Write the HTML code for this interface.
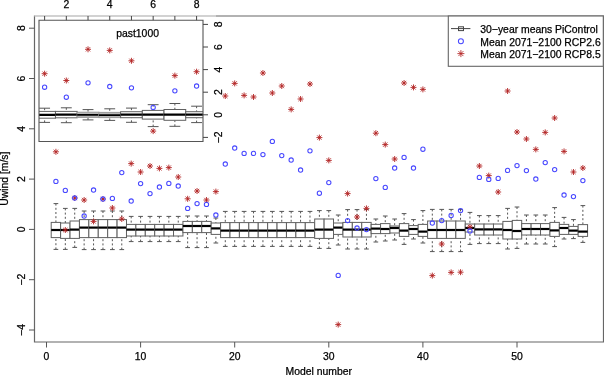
<!DOCTYPE html>
<html><head><meta charset="utf-8"><style>
html,body{margin:0;padding:0;background:#fff;width:604px;height:375px;overflow:hidden}
svg{display:block;position:absolute;left:0;top:0;will-change:transform}
text{font-family:"Liberation Sans",sans-serif;fill:#000;stroke:#000;stroke-width:0.25px}
</style></head><body>
<svg width="604" height="375" viewBox="0 0 604 375">
<rect width="604" height="375" fill="#fff"/>

<line x1="55.91" y1="203.60" x2="55.91" y2="222.40" stroke="#555" stroke-width="1" stroke-dasharray="2 2.2"/>
<line x1="55.91" y1="249.40" x2="55.91" y2="237.60" stroke="#555" stroke-width="1" stroke-dasharray="2 2.2"/>
<line x1="53.56" y1="203.60" x2="58.26" y2="203.60" stroke="#555" stroke-width="1"/>
<line x1="53.56" y1="249.40" x2="58.26" y2="249.40" stroke="#555" stroke-width="1"/>
<rect x="51.20" y="222.40" width="9.41" height="15.20" fill="#fff" stroke="#606060" stroke-width="1"/>
<line x1="51.20" y1="230.00" x2="60.61" y2="230.00" stroke="#000" stroke-width="2.2"/>
<line x1="65.32" y1="208.40" x2="65.32" y2="223.00" stroke="#555" stroke-width="1" stroke-dasharray="2 2.2"/>
<line x1="65.32" y1="249.40" x2="65.32" y2="238.40" stroke="#555" stroke-width="1" stroke-dasharray="2 2.2"/>
<line x1="62.97" y1="208.40" x2="67.67" y2="208.40" stroke="#555" stroke-width="1"/>
<line x1="62.97" y1="249.40" x2="67.67" y2="249.40" stroke="#555" stroke-width="1"/>
<rect x="60.61" y="223.00" width="9.41" height="15.40" fill="#fff" stroke="#606060" stroke-width="1"/>
<line x1="60.61" y1="230.00" x2="70.02" y2="230.00" stroke="#000" stroke-width="2.2"/>
<line x1="74.73" y1="208.40" x2="74.73" y2="221.00" stroke="#555" stroke-width="1" stroke-dasharray="2 2.2"/>
<line x1="74.73" y1="247.40" x2="74.73" y2="238.40" stroke="#555" stroke-width="1" stroke-dasharray="2 2.2"/>
<line x1="72.38" y1="208.40" x2="77.08" y2="208.40" stroke="#555" stroke-width="1"/>
<line x1="72.38" y1="247.40" x2="77.08" y2="247.40" stroke="#555" stroke-width="1"/>
<rect x="70.03" y="221.00" width="9.41" height="17.40" fill="#fff" stroke="#606060" stroke-width="1"/>
<line x1="70.03" y1="229.60" x2="79.44" y2="229.60" stroke="#000" stroke-width="2.2"/>
<line x1="84.14" y1="211.00" x2="84.14" y2="219.60" stroke="#555" stroke-width="1" stroke-dasharray="2 2.2"/>
<line x1="84.14" y1="249.60" x2="84.14" y2="237.60" stroke="#555" stroke-width="1" stroke-dasharray="2 2.2"/>
<line x1="81.79" y1="211.00" x2="86.49" y2="211.00" stroke="#555" stroke-width="1"/>
<line x1="81.79" y1="249.60" x2="86.49" y2="249.60" stroke="#555" stroke-width="1"/>
<rect x="79.44" y="219.60" width="9.41" height="18.00" fill="#fff" stroke="#606060" stroke-width="1"/>
<line x1="79.44" y1="227.60" x2="88.84" y2="227.60" stroke="#000" stroke-width="2.2"/>
<line x1="93.55" y1="211.00" x2="93.55" y2="219.60" stroke="#555" stroke-width="1" stroke-dasharray="2 2.2"/>
<line x1="93.55" y1="249.60" x2="93.55" y2="237.60" stroke="#555" stroke-width="1" stroke-dasharray="2 2.2"/>
<line x1="91.20" y1="211.00" x2="95.90" y2="211.00" stroke="#555" stroke-width="1"/>
<line x1="91.20" y1="249.60" x2="95.90" y2="249.60" stroke="#555" stroke-width="1"/>
<rect x="88.84" y="219.60" width="9.41" height="18.00" fill="#fff" stroke="#606060" stroke-width="1"/>
<line x1="88.84" y1="227.60" x2="98.25" y2="227.60" stroke="#000" stroke-width="2.2"/>
<line x1="102.96" y1="211.00" x2="102.96" y2="219.60" stroke="#555" stroke-width="1" stroke-dasharray="2 2.2"/>
<line x1="102.96" y1="249.60" x2="102.96" y2="237.60" stroke="#555" stroke-width="1" stroke-dasharray="2 2.2"/>
<line x1="100.61" y1="211.00" x2="105.31" y2="211.00" stroke="#555" stroke-width="1"/>
<line x1="100.61" y1="249.60" x2="105.31" y2="249.60" stroke="#555" stroke-width="1"/>
<rect x="98.26" y="219.60" width="9.41" height="18.00" fill="#fff" stroke="#606060" stroke-width="1"/>
<line x1="98.26" y1="227.60" x2="107.67" y2="227.60" stroke="#000" stroke-width="2.2"/>
<line x1="112.37" y1="211.00" x2="112.37" y2="219.60" stroke="#555" stroke-width="1" stroke-dasharray="2 2.2"/>
<line x1="112.37" y1="249.60" x2="112.37" y2="237.60" stroke="#555" stroke-width="1" stroke-dasharray="2 2.2"/>
<line x1="110.02" y1="211.00" x2="114.72" y2="211.00" stroke="#555" stroke-width="1"/>
<line x1="110.02" y1="249.60" x2="114.72" y2="249.60" stroke="#555" stroke-width="1"/>
<rect x="107.67" y="219.60" width="9.41" height="18.00" fill="#fff" stroke="#606060" stroke-width="1"/>
<line x1="107.67" y1="227.60" x2="117.08" y2="227.60" stroke="#000" stroke-width="2.2"/>
<line x1="121.78" y1="211.00" x2="121.78" y2="219.60" stroke="#555" stroke-width="1" stroke-dasharray="2 2.2"/>
<line x1="121.78" y1="249.60" x2="121.78" y2="237.60" stroke="#555" stroke-width="1" stroke-dasharray="2 2.2"/>
<line x1="119.43" y1="211.00" x2="124.13" y2="211.00" stroke="#555" stroke-width="1"/>
<line x1="119.43" y1="249.60" x2="124.13" y2="249.60" stroke="#555" stroke-width="1"/>
<rect x="117.08" y="219.60" width="9.41" height="18.00" fill="#fff" stroke="#606060" stroke-width="1"/>
<line x1="117.08" y1="227.60" x2="126.48" y2="227.60" stroke="#000" stroke-width="2.2"/>
<line x1="131.19" y1="216.40" x2="131.19" y2="224.40" stroke="#555" stroke-width="1" stroke-dasharray="2 2.2"/>
<line x1="131.19" y1="241.60" x2="131.19" y2="236.00" stroke="#555" stroke-width="1" stroke-dasharray="2 2.2"/>
<line x1="128.84" y1="216.40" x2="133.54" y2="216.40" stroke="#555" stroke-width="1"/>
<line x1="128.84" y1="241.60" x2="133.54" y2="241.60" stroke="#555" stroke-width="1"/>
<rect x="126.48" y="224.40" width="9.41" height="11.60" fill="#fff" stroke="#606060" stroke-width="1"/>
<line x1="126.48" y1="229.60" x2="135.90" y2="229.60" stroke="#000" stroke-width="2.2"/>
<line x1="140.60" y1="216.40" x2="140.60" y2="224.40" stroke="#555" stroke-width="1" stroke-dasharray="2 2.2"/>
<line x1="140.60" y1="241.60" x2="140.60" y2="236.00" stroke="#555" stroke-width="1" stroke-dasharray="2 2.2"/>
<line x1="138.25" y1="216.40" x2="142.95" y2="216.40" stroke="#555" stroke-width="1"/>
<line x1="138.25" y1="241.60" x2="142.95" y2="241.60" stroke="#555" stroke-width="1"/>
<rect x="135.89" y="224.40" width="9.41" height="11.60" fill="#fff" stroke="#606060" stroke-width="1"/>
<line x1="135.89" y1="229.60" x2="145.31" y2="229.60" stroke="#000" stroke-width="2.2"/>
<line x1="150.01" y1="216.40" x2="150.01" y2="224.40" stroke="#555" stroke-width="1" stroke-dasharray="2 2.2"/>
<line x1="150.01" y1="241.60" x2="150.01" y2="236.00" stroke="#555" stroke-width="1" stroke-dasharray="2 2.2"/>
<line x1="147.66" y1="216.40" x2="152.36" y2="216.40" stroke="#555" stroke-width="1"/>
<line x1="147.66" y1="241.60" x2="152.36" y2="241.60" stroke="#555" stroke-width="1"/>
<rect x="145.30" y="224.40" width="9.41" height="11.60" fill="#fff" stroke="#606060" stroke-width="1"/>
<line x1="145.30" y1="229.60" x2="154.72" y2="229.60" stroke="#000" stroke-width="2.2"/>
<line x1="159.42" y1="216.40" x2="159.42" y2="224.40" stroke="#555" stroke-width="1" stroke-dasharray="2 2.2"/>
<line x1="159.42" y1="241.60" x2="159.42" y2="236.00" stroke="#555" stroke-width="1" stroke-dasharray="2 2.2"/>
<line x1="157.07" y1="216.40" x2="161.77" y2="216.40" stroke="#555" stroke-width="1"/>
<line x1="157.07" y1="241.60" x2="161.77" y2="241.60" stroke="#555" stroke-width="1"/>
<rect x="154.72" y="224.40" width="9.41" height="11.60" fill="#fff" stroke="#606060" stroke-width="1"/>
<line x1="154.72" y1="229.60" x2="164.13" y2="229.60" stroke="#000" stroke-width="2.2"/>
<line x1="168.83" y1="216.40" x2="168.83" y2="224.40" stroke="#555" stroke-width="1" stroke-dasharray="2 2.2"/>
<line x1="168.83" y1="241.60" x2="168.83" y2="236.00" stroke="#555" stroke-width="1" stroke-dasharray="2 2.2"/>
<line x1="166.48" y1="216.40" x2="171.18" y2="216.40" stroke="#555" stroke-width="1"/>
<line x1="166.48" y1="241.60" x2="171.18" y2="241.60" stroke="#555" stroke-width="1"/>
<rect x="164.12" y="224.40" width="9.41" height="11.60" fill="#fff" stroke="#606060" stroke-width="1"/>
<line x1="164.12" y1="229.60" x2="173.53" y2="229.60" stroke="#000" stroke-width="2.2"/>
<line x1="178.24" y1="216.40" x2="178.24" y2="224.40" stroke="#555" stroke-width="1" stroke-dasharray="2 2.2"/>
<line x1="178.24" y1="241.60" x2="178.24" y2="236.00" stroke="#555" stroke-width="1" stroke-dasharray="2 2.2"/>
<line x1="175.89" y1="216.40" x2="180.59" y2="216.40" stroke="#555" stroke-width="1"/>
<line x1="175.89" y1="241.60" x2="180.59" y2="241.60" stroke="#555" stroke-width="1"/>
<rect x="173.53" y="224.40" width="9.41" height="11.60" fill="#fff" stroke="#606060" stroke-width="1"/>
<line x1="173.53" y1="229.60" x2="182.95" y2="229.60" stroke="#000" stroke-width="2.2"/>
<line x1="187.65" y1="216.00" x2="187.65" y2="221.40" stroke="#555" stroke-width="1" stroke-dasharray="2 2.2"/>
<line x1="187.65" y1="247.60" x2="187.65" y2="232.60" stroke="#555" stroke-width="1" stroke-dasharray="2 2.2"/>
<line x1="185.30" y1="216.00" x2="190.00" y2="216.00" stroke="#555" stroke-width="1"/>
<line x1="185.30" y1="247.60" x2="190.00" y2="247.60" stroke="#555" stroke-width="1"/>
<rect x="182.94" y="221.40" width="9.41" height="11.20" fill="#fff" stroke="#606060" stroke-width="1"/>
<line x1="182.94" y1="226.00" x2="192.36" y2="226.00" stroke="#000" stroke-width="2.2"/>
<line x1="197.06" y1="216.00" x2="197.06" y2="221.40" stroke="#555" stroke-width="1" stroke-dasharray="2 2.2"/>
<line x1="197.06" y1="247.60" x2="197.06" y2="232.60" stroke="#555" stroke-width="1" stroke-dasharray="2 2.2"/>
<line x1="194.71" y1="216.00" x2="199.41" y2="216.00" stroke="#555" stroke-width="1"/>
<line x1="194.71" y1="247.60" x2="199.41" y2="247.60" stroke="#555" stroke-width="1"/>
<rect x="192.35" y="221.40" width="9.41" height="11.20" fill="#fff" stroke="#606060" stroke-width="1"/>
<line x1="192.35" y1="226.00" x2="201.77" y2="226.00" stroke="#000" stroke-width="2.2"/>
<line x1="206.47" y1="216.00" x2="206.47" y2="221.40" stroke="#555" stroke-width="1" stroke-dasharray="2 2.2"/>
<line x1="206.47" y1="247.60" x2="206.47" y2="232.60" stroke="#555" stroke-width="1" stroke-dasharray="2 2.2"/>
<line x1="204.12" y1="216.00" x2="208.82" y2="216.00" stroke="#555" stroke-width="1"/>
<line x1="204.12" y1="247.60" x2="208.82" y2="247.60" stroke="#555" stroke-width="1"/>
<rect x="201.76" y="221.40" width="9.41" height="11.20" fill="#fff" stroke="#606060" stroke-width="1"/>
<line x1="201.76" y1="226.00" x2="211.18" y2="226.00" stroke="#000" stroke-width="2.2"/>
<line x1="215.88" y1="218.00" x2="215.88" y2="223.00" stroke="#555" stroke-width="1" stroke-dasharray="2 2.2"/>
<line x1="215.88" y1="243.00" x2="215.88" y2="234.40" stroke="#555" stroke-width="1" stroke-dasharray="2 2.2"/>
<line x1="213.53" y1="218.00" x2="218.23" y2="218.00" stroke="#555" stroke-width="1"/>
<line x1="213.53" y1="243.00" x2="218.23" y2="243.00" stroke="#555" stroke-width="1"/>
<rect x="211.17" y="223.00" width="9.41" height="11.40" fill="#fff" stroke="#606060" stroke-width="1"/>
<line x1="211.17" y1="228.40" x2="220.59" y2="228.40" stroke="#000" stroke-width="2.2"/>
<line x1="225.29" y1="211.40" x2="225.29" y2="222.60" stroke="#555" stroke-width="1" stroke-dasharray="2 2.2"/>
<line x1="225.29" y1="246.40" x2="225.29" y2="237.60" stroke="#555" stroke-width="1" stroke-dasharray="2 2.2"/>
<line x1="222.94" y1="211.40" x2="227.64" y2="211.40" stroke="#555" stroke-width="1"/>
<line x1="222.94" y1="246.40" x2="227.64" y2="246.40" stroke="#555" stroke-width="1"/>
<rect x="220.58" y="222.60" width="9.41" height="15.00" fill="#fff" stroke="#606060" stroke-width="1"/>
<line x1="220.58" y1="230.60" x2="230.00" y2="230.60" stroke="#000" stroke-width="2.2"/>
<line x1="234.70" y1="211.40" x2="234.70" y2="222.60" stroke="#555" stroke-width="1" stroke-dasharray="2 2.2"/>
<line x1="234.70" y1="246.40" x2="234.70" y2="237.60" stroke="#555" stroke-width="1" stroke-dasharray="2 2.2"/>
<line x1="232.35" y1="211.40" x2="237.05" y2="211.40" stroke="#555" stroke-width="1"/>
<line x1="232.35" y1="246.40" x2="237.05" y2="246.40" stroke="#555" stroke-width="1"/>
<rect x="229.99" y="222.60" width="9.41" height="15.00" fill="#fff" stroke="#606060" stroke-width="1"/>
<line x1="229.99" y1="230.60" x2="239.41" y2="230.60" stroke="#000" stroke-width="2.2"/>
<line x1="244.11" y1="211.40" x2="244.11" y2="222.60" stroke="#555" stroke-width="1" stroke-dasharray="2 2.2"/>
<line x1="244.11" y1="246.40" x2="244.11" y2="237.60" stroke="#555" stroke-width="1" stroke-dasharray="2 2.2"/>
<line x1="241.76" y1="211.40" x2="246.46" y2="211.40" stroke="#555" stroke-width="1"/>
<line x1="241.76" y1="246.40" x2="246.46" y2="246.40" stroke="#555" stroke-width="1"/>
<rect x="239.41" y="222.60" width="9.41" height="15.00" fill="#fff" stroke="#606060" stroke-width="1"/>
<line x1="239.41" y1="230.60" x2="248.82" y2="230.60" stroke="#000" stroke-width="2.2"/>
<line x1="253.52" y1="211.40" x2="253.52" y2="222.60" stroke="#555" stroke-width="1" stroke-dasharray="2 2.2"/>
<line x1="253.52" y1="246.40" x2="253.52" y2="237.60" stroke="#555" stroke-width="1" stroke-dasharray="2 2.2"/>
<line x1="251.17" y1="211.40" x2="255.87" y2="211.40" stroke="#555" stroke-width="1"/>
<line x1="251.17" y1="246.40" x2="255.87" y2="246.40" stroke="#555" stroke-width="1"/>
<rect x="248.81" y="222.60" width="9.41" height="15.00" fill="#fff" stroke="#606060" stroke-width="1"/>
<line x1="248.81" y1="230.60" x2="258.23" y2="230.60" stroke="#000" stroke-width="2.2"/>
<line x1="262.93" y1="211.40" x2="262.93" y2="222.60" stroke="#555" stroke-width="1" stroke-dasharray="2 2.2"/>
<line x1="262.93" y1="246.40" x2="262.93" y2="237.60" stroke="#555" stroke-width="1" stroke-dasharray="2 2.2"/>
<line x1="260.58" y1="211.40" x2="265.28" y2="211.40" stroke="#555" stroke-width="1"/>
<line x1="260.58" y1="246.40" x2="265.28" y2="246.40" stroke="#555" stroke-width="1"/>
<rect x="258.23" y="222.60" width="9.41" height="15.00" fill="#fff" stroke="#606060" stroke-width="1"/>
<line x1="258.23" y1="230.60" x2="267.63" y2="230.60" stroke="#000" stroke-width="2.2"/>
<line x1="272.34" y1="211.40" x2="272.34" y2="222.60" stroke="#555" stroke-width="1" stroke-dasharray="2 2.2"/>
<line x1="272.34" y1="246.40" x2="272.34" y2="237.60" stroke="#555" stroke-width="1" stroke-dasharray="2 2.2"/>
<line x1="269.99" y1="211.40" x2="274.69" y2="211.40" stroke="#555" stroke-width="1"/>
<line x1="269.99" y1="246.40" x2="274.69" y2="246.40" stroke="#555" stroke-width="1"/>
<rect x="267.64" y="222.60" width="9.41" height="15.00" fill="#fff" stroke="#606060" stroke-width="1"/>
<line x1="267.64" y1="230.60" x2="277.05" y2="230.60" stroke="#000" stroke-width="2.2"/>
<line x1="281.75" y1="211.40" x2="281.75" y2="222.60" stroke="#555" stroke-width="1" stroke-dasharray="2 2.2"/>
<line x1="281.75" y1="246.40" x2="281.75" y2="237.60" stroke="#555" stroke-width="1" stroke-dasharray="2 2.2"/>
<line x1="279.40" y1="211.40" x2="284.10" y2="211.40" stroke="#555" stroke-width="1"/>
<line x1="279.40" y1="246.40" x2="284.10" y2="246.40" stroke="#555" stroke-width="1"/>
<rect x="277.05" y="222.60" width="9.41" height="15.00" fill="#fff" stroke="#606060" stroke-width="1"/>
<line x1="277.05" y1="230.60" x2="286.45" y2="230.60" stroke="#000" stroke-width="2.2"/>
<line x1="291.16" y1="211.40" x2="291.16" y2="222.60" stroke="#555" stroke-width="1" stroke-dasharray="2 2.2"/>
<line x1="291.16" y1="246.40" x2="291.16" y2="237.60" stroke="#555" stroke-width="1" stroke-dasharray="2 2.2"/>
<line x1="288.81" y1="211.40" x2="293.51" y2="211.40" stroke="#555" stroke-width="1"/>
<line x1="288.81" y1="246.40" x2="293.51" y2="246.40" stroke="#555" stroke-width="1"/>
<rect x="286.45" y="222.60" width="9.41" height="15.00" fill="#fff" stroke="#606060" stroke-width="1"/>
<line x1="286.45" y1="230.60" x2="295.86" y2="230.60" stroke="#000" stroke-width="2.2"/>
<line x1="300.57" y1="211.40" x2="300.57" y2="222.60" stroke="#555" stroke-width="1" stroke-dasharray="2 2.2"/>
<line x1="300.57" y1="246.40" x2="300.57" y2="237.60" stroke="#555" stroke-width="1" stroke-dasharray="2 2.2"/>
<line x1="298.22" y1="211.40" x2="302.92" y2="211.40" stroke="#555" stroke-width="1"/>
<line x1="298.22" y1="246.40" x2="302.92" y2="246.40" stroke="#555" stroke-width="1"/>
<rect x="295.87" y="222.60" width="9.41" height="15.00" fill="#fff" stroke="#606060" stroke-width="1"/>
<line x1="295.87" y1="230.60" x2="305.27" y2="230.60" stroke="#000" stroke-width="2.2"/>
<line x1="309.98" y1="211.40" x2="309.98" y2="222.60" stroke="#555" stroke-width="1" stroke-dasharray="2 2.2"/>
<line x1="309.98" y1="246.40" x2="309.98" y2="237.60" stroke="#555" stroke-width="1" stroke-dasharray="2 2.2"/>
<line x1="307.63" y1="211.40" x2="312.33" y2="211.40" stroke="#555" stroke-width="1"/>
<line x1="307.63" y1="246.40" x2="312.33" y2="246.40" stroke="#555" stroke-width="1"/>
<rect x="305.28" y="222.60" width="9.41" height="15.00" fill="#fff" stroke="#606060" stroke-width="1"/>
<line x1="305.28" y1="230.60" x2="314.69" y2="230.60" stroke="#000" stroke-width="2.2"/>
<line x1="319.39" y1="210.60" x2="319.39" y2="219.00" stroke="#555" stroke-width="1" stroke-dasharray="2 2.2"/>
<line x1="319.39" y1="248.40" x2="319.39" y2="238.40" stroke="#555" stroke-width="1" stroke-dasharray="2 2.2"/>
<line x1="317.04" y1="210.60" x2="321.74" y2="210.60" stroke="#555" stroke-width="1"/>
<line x1="317.04" y1="248.40" x2="321.74" y2="248.40" stroke="#555" stroke-width="1"/>
<rect x="314.69" y="219.00" width="9.41" height="19.40" fill="#fff" stroke="#606060" stroke-width="1"/>
<line x1="314.69" y1="229.60" x2="324.09" y2="229.60" stroke="#000" stroke-width="2.2"/>
<line x1="328.80" y1="210.60" x2="328.80" y2="219.00" stroke="#555" stroke-width="1" stroke-dasharray="2 2.2"/>
<line x1="328.80" y1="248.40" x2="328.80" y2="238.40" stroke="#555" stroke-width="1" stroke-dasharray="2 2.2"/>
<line x1="326.45" y1="210.60" x2="331.15" y2="210.60" stroke="#555" stroke-width="1"/>
<line x1="326.45" y1="248.40" x2="331.15" y2="248.40" stroke="#555" stroke-width="1"/>
<rect x="324.10" y="219.00" width="9.41" height="19.40" fill="#fff" stroke="#606060" stroke-width="1"/>
<line x1="324.10" y1="229.60" x2="333.50" y2="229.60" stroke="#000" stroke-width="2.2"/>
<line x1="338.21" y1="215.00" x2="338.21" y2="223.00" stroke="#555" stroke-width="1" stroke-dasharray="2 2.2"/>
<line x1="338.21" y1="245.00" x2="338.21" y2="234.40" stroke="#555" stroke-width="1" stroke-dasharray="2 2.2"/>
<line x1="335.86" y1="215.00" x2="340.56" y2="215.00" stroke="#555" stroke-width="1"/>
<line x1="335.86" y1="245.00" x2="340.56" y2="245.00" stroke="#555" stroke-width="1"/>
<rect x="333.50" y="223.00" width="9.41" height="11.40" fill="#fff" stroke="#606060" stroke-width="1"/>
<line x1="333.50" y1="227.60" x2="342.91" y2="227.60" stroke="#000" stroke-width="2.2"/>
<line x1="347.62" y1="209.60" x2="347.62" y2="222.40" stroke="#555" stroke-width="1" stroke-dasharray="2 2.2"/>
<line x1="347.62" y1="249.00" x2="347.62" y2="237.00" stroke="#555" stroke-width="1" stroke-dasharray="2 2.2"/>
<line x1="345.27" y1="209.60" x2="349.97" y2="209.60" stroke="#555" stroke-width="1"/>
<line x1="345.27" y1="249.00" x2="349.97" y2="249.00" stroke="#555" stroke-width="1"/>
<rect x="342.92" y="222.40" width="9.41" height="14.60" fill="#fff" stroke="#606060" stroke-width="1"/>
<line x1="342.92" y1="229.60" x2="352.32" y2="229.60" stroke="#000" stroke-width="2.2"/>
<line x1="357.03" y1="209.60" x2="357.03" y2="222.40" stroke="#555" stroke-width="1" stroke-dasharray="2 2.2"/>
<line x1="357.03" y1="249.00" x2="357.03" y2="237.00" stroke="#555" stroke-width="1" stroke-dasharray="2 2.2"/>
<line x1="354.68" y1="209.60" x2="359.38" y2="209.60" stroke="#555" stroke-width="1"/>
<line x1="354.68" y1="249.00" x2="359.38" y2="249.00" stroke="#555" stroke-width="1"/>
<rect x="352.33" y="222.40" width="9.41" height="14.60" fill="#fff" stroke="#606060" stroke-width="1"/>
<line x1="352.33" y1="229.60" x2="361.74" y2="229.60" stroke="#000" stroke-width="2.2"/>
<line x1="366.44" y1="209.60" x2="366.44" y2="222.40" stroke="#555" stroke-width="1" stroke-dasharray="2 2.2"/>
<line x1="366.44" y1="249.00" x2="366.44" y2="237.00" stroke="#555" stroke-width="1" stroke-dasharray="2 2.2"/>
<line x1="364.09" y1="209.60" x2="368.79" y2="209.60" stroke="#555" stroke-width="1"/>
<line x1="364.09" y1="249.00" x2="368.79" y2="249.00" stroke="#555" stroke-width="1"/>
<rect x="361.74" y="222.40" width="9.41" height="14.60" fill="#fff" stroke="#606060" stroke-width="1"/>
<line x1="361.74" y1="229.60" x2="371.14" y2="229.60" stroke="#000" stroke-width="2.2"/>
<line x1="375.85" y1="219.00" x2="375.85" y2="224.40" stroke="#555" stroke-width="1" stroke-dasharray="2 2.2"/>
<line x1="375.85" y1="242.00" x2="375.85" y2="233.60" stroke="#555" stroke-width="1" stroke-dasharray="2 2.2"/>
<line x1="373.50" y1="219.00" x2="378.20" y2="219.00" stroke="#555" stroke-width="1"/>
<line x1="373.50" y1="242.00" x2="378.20" y2="242.00" stroke="#555" stroke-width="1"/>
<rect x="371.15" y="224.40" width="9.41" height="9.20" fill="#fff" stroke="#606060" stroke-width="1"/>
<line x1="371.15" y1="228.60" x2="380.56" y2="228.60" stroke="#000" stroke-width="2.2"/>
<line x1="385.26" y1="216.00" x2="385.26" y2="223.60" stroke="#555" stroke-width="1" stroke-dasharray="2 2.2"/>
<line x1="385.26" y1="241.00" x2="385.26" y2="233.60" stroke="#555" stroke-width="1" stroke-dasharray="2 2.2"/>
<line x1="382.91" y1="216.00" x2="387.61" y2="216.00" stroke="#555" stroke-width="1"/>
<line x1="382.91" y1="241.00" x2="387.61" y2="241.00" stroke="#555" stroke-width="1"/>
<rect x="380.56" y="223.60" width="9.41" height="10.00" fill="#fff" stroke="#606060" stroke-width="1"/>
<line x1="380.56" y1="229.00" x2="389.96" y2="229.00" stroke="#000" stroke-width="2.2"/>
<line x1="394.67" y1="219.00" x2="394.67" y2="226.00" stroke="#555" stroke-width="1" stroke-dasharray="2 2.2"/>
<line x1="394.67" y1="240.00" x2="394.67" y2="233.00" stroke="#555" stroke-width="1" stroke-dasharray="2 2.2"/>
<line x1="392.32" y1="219.00" x2="397.02" y2="219.00" stroke="#555" stroke-width="1"/>
<line x1="392.32" y1="240.00" x2="397.02" y2="240.00" stroke="#555" stroke-width="1"/>
<rect x="389.97" y="226.00" width="9.41" height="7.00" fill="#fff" stroke="#606060" stroke-width="1"/>
<line x1="389.97" y1="228.00" x2="399.38" y2="228.00" stroke="#000" stroke-width="2.2"/>
<line x1="404.08" y1="213.60" x2="404.08" y2="223.60" stroke="#555" stroke-width="1" stroke-dasharray="2 2.2"/>
<line x1="404.08" y1="244.40" x2="404.08" y2="236.40" stroke="#555" stroke-width="1" stroke-dasharray="2 2.2"/>
<line x1="401.73" y1="213.60" x2="406.43" y2="213.60" stroke="#555" stroke-width="1"/>
<line x1="401.73" y1="244.40" x2="406.43" y2="244.40" stroke="#555" stroke-width="1"/>
<rect x="399.38" y="223.60" width="9.41" height="12.80" fill="#fff" stroke="#606060" stroke-width="1"/>
<line x1="399.38" y1="230.60" x2="408.78" y2="230.60" stroke="#000" stroke-width="2.2"/>
<line x1="413.49" y1="219.60" x2="413.49" y2="225.60" stroke="#555" stroke-width="1" stroke-dasharray="2 2.2"/>
<line x1="413.49" y1="239.00" x2="413.49" y2="234.40" stroke="#555" stroke-width="1" stroke-dasharray="2 2.2"/>
<line x1="411.14" y1="219.60" x2="415.84" y2="219.60" stroke="#555" stroke-width="1"/>
<line x1="411.14" y1="239.00" x2="415.84" y2="239.00" stroke="#555" stroke-width="1"/>
<rect x="408.79" y="225.60" width="9.41" height="8.80" fill="#fff" stroke="#606060" stroke-width="1"/>
<line x1="408.79" y1="229.00" x2="418.19" y2="229.00" stroke="#000" stroke-width="2.2"/>
<line x1="422.90" y1="210.60" x2="422.90" y2="224.40" stroke="#555" stroke-width="1" stroke-dasharray="2 2.2"/>
<line x1="422.90" y1="243.00" x2="422.90" y2="236.40" stroke="#555" stroke-width="1" stroke-dasharray="2 2.2"/>
<line x1="420.55" y1="210.60" x2="425.25" y2="210.60" stroke="#555" stroke-width="1"/>
<line x1="420.55" y1="243.00" x2="425.25" y2="243.00" stroke="#555" stroke-width="1"/>
<rect x="418.19" y="224.40" width="9.41" height="12.00" fill="#fff" stroke="#606060" stroke-width="1"/>
<line x1="418.19" y1="231.60" x2="427.60" y2="231.60" stroke="#000" stroke-width="2.2"/>
<line x1="432.31" y1="209.40" x2="432.31" y2="221.00" stroke="#555" stroke-width="1" stroke-dasharray="2 2.2"/>
<line x1="432.31" y1="251.60" x2="432.31" y2="238.40" stroke="#555" stroke-width="1" stroke-dasharray="2 2.2"/>
<line x1="429.96" y1="209.40" x2="434.66" y2="209.40" stroke="#555" stroke-width="1"/>
<line x1="429.96" y1="251.60" x2="434.66" y2="251.60" stroke="#555" stroke-width="1"/>
<rect x="427.61" y="221.00" width="9.41" height="17.40" fill="#fff" stroke="#606060" stroke-width="1"/>
<line x1="427.61" y1="230.00" x2="437.01" y2="230.00" stroke="#000" stroke-width="2.2"/>
<line x1="441.72" y1="209.40" x2="441.72" y2="221.00" stroke="#555" stroke-width="1" stroke-dasharray="2 2.2"/>
<line x1="441.72" y1="251.60" x2="441.72" y2="238.40" stroke="#555" stroke-width="1" stroke-dasharray="2 2.2"/>
<line x1="439.37" y1="209.40" x2="444.07" y2="209.40" stroke="#555" stroke-width="1"/>
<line x1="439.37" y1="251.60" x2="444.07" y2="251.60" stroke="#555" stroke-width="1"/>
<rect x="437.02" y="221.00" width="9.41" height="17.40" fill="#fff" stroke="#606060" stroke-width="1"/>
<line x1="437.02" y1="230.00" x2="446.43" y2="230.00" stroke="#000" stroke-width="2.2"/>
<line x1="451.13" y1="209.40" x2="451.13" y2="221.00" stroke="#555" stroke-width="1" stroke-dasharray="2 2.2"/>
<line x1="451.13" y1="251.60" x2="451.13" y2="238.40" stroke="#555" stroke-width="1" stroke-dasharray="2 2.2"/>
<line x1="448.78" y1="209.40" x2="453.48" y2="209.40" stroke="#555" stroke-width="1"/>
<line x1="448.78" y1="251.60" x2="453.48" y2="251.60" stroke="#555" stroke-width="1"/>
<rect x="446.43" y="221.00" width="9.41" height="17.40" fill="#fff" stroke="#606060" stroke-width="1"/>
<line x1="446.43" y1="230.00" x2="455.83" y2="230.00" stroke="#000" stroke-width="2.2"/>
<line x1="460.54" y1="209.40" x2="460.54" y2="221.00" stroke="#555" stroke-width="1" stroke-dasharray="2 2.2"/>
<line x1="460.54" y1="251.60" x2="460.54" y2="238.40" stroke="#555" stroke-width="1" stroke-dasharray="2 2.2"/>
<line x1="458.19" y1="209.40" x2="462.89" y2="209.40" stroke="#555" stroke-width="1"/>
<line x1="458.19" y1="251.60" x2="462.89" y2="251.60" stroke="#555" stroke-width="1"/>
<rect x="455.84" y="221.00" width="9.41" height="17.40" fill="#fff" stroke="#606060" stroke-width="1"/>
<line x1="455.84" y1="230.00" x2="465.25" y2="230.00" stroke="#000" stroke-width="2.2"/>
<line x1="469.95" y1="212.40" x2="469.95" y2="224.00" stroke="#555" stroke-width="1" stroke-dasharray="2 2.2"/>
<line x1="469.95" y1="244.40" x2="469.95" y2="232.00" stroke="#555" stroke-width="1" stroke-dasharray="2 2.2"/>
<line x1="467.60" y1="212.40" x2="472.30" y2="212.40" stroke="#555" stroke-width="1"/>
<line x1="467.60" y1="244.40" x2="472.30" y2="244.40" stroke="#555" stroke-width="1"/>
<rect x="465.25" y="224.00" width="9.41" height="8.00" fill="#fff" stroke="#606060" stroke-width="1"/>
<line x1="465.25" y1="228.00" x2="474.65" y2="228.00" stroke="#000" stroke-width="2.2"/>
<line x1="479.36" y1="215.60" x2="479.36" y2="224.00" stroke="#555" stroke-width="1" stroke-dasharray="2 2.2"/>
<line x1="479.36" y1="243.60" x2="479.36" y2="235.00" stroke="#555" stroke-width="1" stroke-dasharray="2 2.2"/>
<line x1="477.01" y1="215.60" x2="481.71" y2="215.60" stroke="#555" stroke-width="1"/>
<line x1="477.01" y1="243.60" x2="481.71" y2="243.60" stroke="#555" stroke-width="1"/>
<rect x="474.66" y="224.00" width="9.41" height="11.00" fill="#fff" stroke="#606060" stroke-width="1"/>
<line x1="474.66" y1="229.40" x2="484.06" y2="229.40" stroke="#000" stroke-width="2.2"/>
<line x1="488.77" y1="215.60" x2="488.77" y2="224.00" stroke="#555" stroke-width="1" stroke-dasharray="2 2.2"/>
<line x1="488.77" y1="243.60" x2="488.77" y2="235.00" stroke="#555" stroke-width="1" stroke-dasharray="2 2.2"/>
<line x1="486.42" y1="215.60" x2="491.12" y2="215.60" stroke="#555" stroke-width="1"/>
<line x1="486.42" y1="243.60" x2="491.12" y2="243.60" stroke="#555" stroke-width="1"/>
<rect x="484.06" y="224.00" width="9.41" height="11.00" fill="#fff" stroke="#606060" stroke-width="1"/>
<line x1="484.06" y1="229.40" x2="493.47" y2="229.40" stroke="#000" stroke-width="2.2"/>
<line x1="498.18" y1="215.60" x2="498.18" y2="224.00" stroke="#555" stroke-width="1" stroke-dasharray="2 2.2"/>
<line x1="498.18" y1="243.60" x2="498.18" y2="235.00" stroke="#555" stroke-width="1" stroke-dasharray="2 2.2"/>
<line x1="495.83" y1="215.60" x2="500.53" y2="215.60" stroke="#555" stroke-width="1"/>
<line x1="495.83" y1="243.60" x2="500.53" y2="243.60" stroke="#555" stroke-width="1"/>
<rect x="493.48" y="224.00" width="9.41" height="11.00" fill="#fff" stroke="#606060" stroke-width="1"/>
<line x1="493.48" y1="229.40" x2="502.88" y2="229.40" stroke="#000" stroke-width="2.2"/>
<line x1="507.59" y1="208.40" x2="507.59" y2="221.40" stroke="#555" stroke-width="1" stroke-dasharray="2 2.2"/>
<line x1="507.59" y1="249.00" x2="507.59" y2="239.00" stroke="#555" stroke-width="1" stroke-dasharray="2 2.2"/>
<line x1="505.24" y1="208.40" x2="509.94" y2="208.40" stroke="#555" stroke-width="1"/>
<line x1="505.24" y1="249.00" x2="509.94" y2="249.00" stroke="#555" stroke-width="1"/>
<rect x="502.89" y="221.40" width="9.41" height="17.60" fill="#fff" stroke="#606060" stroke-width="1"/>
<line x1="502.89" y1="230.00" x2="512.30" y2="230.00" stroke="#000" stroke-width="2.2"/>
<line x1="517.00" y1="207.00" x2="517.00" y2="220.40" stroke="#555" stroke-width="1" stroke-dasharray="2 2.2"/>
<line x1="517.00" y1="248.40" x2="517.00" y2="239.00" stroke="#555" stroke-width="1" stroke-dasharray="2 2.2"/>
<line x1="514.65" y1="207.00" x2="519.35" y2="207.00" stroke="#555" stroke-width="1"/>
<line x1="514.65" y1="248.40" x2="519.35" y2="248.40" stroke="#555" stroke-width="1"/>
<rect x="512.29" y="220.40" width="9.41" height="18.60" fill="#fff" stroke="#606060" stroke-width="1"/>
<line x1="512.29" y1="231.00" x2="521.71" y2="231.00" stroke="#000" stroke-width="2.2"/>
<line x1="526.41" y1="215.00" x2="526.41" y2="223.60" stroke="#555" stroke-width="1" stroke-dasharray="2 2.2"/>
<line x1="526.41" y1="244.00" x2="526.41" y2="235.00" stroke="#555" stroke-width="1" stroke-dasharray="2 2.2"/>
<line x1="524.06" y1="215.00" x2="528.76" y2="215.00" stroke="#555" stroke-width="1"/>
<line x1="524.06" y1="244.00" x2="528.76" y2="244.00" stroke="#555" stroke-width="1"/>
<rect x="521.71" y="223.60" width="9.41" height="11.40" fill="#fff" stroke="#606060" stroke-width="1"/>
<line x1="521.71" y1="229.00" x2="531.12" y2="229.00" stroke="#000" stroke-width="2.2"/>
<line x1="535.82" y1="215.00" x2="535.82" y2="223.60" stroke="#555" stroke-width="1" stroke-dasharray="2 2.2"/>
<line x1="535.82" y1="244.00" x2="535.82" y2="235.00" stroke="#555" stroke-width="1" stroke-dasharray="2 2.2"/>
<line x1="533.47" y1="215.00" x2="538.17" y2="215.00" stroke="#555" stroke-width="1"/>
<line x1="533.47" y1="244.00" x2="538.17" y2="244.00" stroke="#555" stroke-width="1"/>
<rect x="531.11" y="223.60" width="9.41" height="11.40" fill="#fff" stroke="#606060" stroke-width="1"/>
<line x1="531.11" y1="229.00" x2="540.52" y2="229.00" stroke="#000" stroke-width="2.2"/>
<line x1="545.23" y1="215.00" x2="545.23" y2="223.60" stroke="#555" stroke-width="1" stroke-dasharray="2 2.2"/>
<line x1="545.23" y1="244.00" x2="545.23" y2="235.00" stroke="#555" stroke-width="1" stroke-dasharray="2 2.2"/>
<line x1="542.88" y1="215.00" x2="547.58" y2="215.00" stroke="#555" stroke-width="1"/>
<line x1="542.88" y1="244.00" x2="547.58" y2="244.00" stroke="#555" stroke-width="1"/>
<rect x="540.52" y="223.60" width="9.41" height="11.40" fill="#fff" stroke="#606060" stroke-width="1"/>
<line x1="540.52" y1="229.00" x2="549.94" y2="229.00" stroke="#000" stroke-width="2.2"/>
<line x1="554.64" y1="207.60" x2="554.64" y2="222.40" stroke="#555" stroke-width="1" stroke-dasharray="2 2.2"/>
<line x1="554.64" y1="246.60" x2="554.64" y2="236.40" stroke="#555" stroke-width="1" stroke-dasharray="2 2.2"/>
<line x1="552.29" y1="207.60" x2="556.99" y2="207.60" stroke="#555" stroke-width="1"/>
<line x1="552.29" y1="246.60" x2="556.99" y2="246.60" stroke="#555" stroke-width="1"/>
<rect x="549.93" y="222.40" width="9.41" height="14.00" fill="#fff" stroke="#606060" stroke-width="1"/>
<line x1="549.93" y1="230.40" x2="559.35" y2="230.40" stroke="#000" stroke-width="2.2"/>
<line x1="564.05" y1="217.40" x2="564.05" y2="224.40" stroke="#555" stroke-width="1" stroke-dasharray="2 2.2"/>
<line x1="564.05" y1="239.00" x2="564.05" y2="234.40" stroke="#555" stroke-width="1" stroke-dasharray="2 2.2"/>
<line x1="561.70" y1="217.40" x2="566.40" y2="217.40" stroke="#555" stroke-width="1"/>
<line x1="561.70" y1="239.00" x2="566.40" y2="239.00" stroke="#555" stroke-width="1"/>
<rect x="559.34" y="224.40" width="9.41" height="10.00" fill="#fff" stroke="#606060" stroke-width="1"/>
<line x1="559.34" y1="228.00" x2="568.75" y2="228.00" stroke="#000" stroke-width="2.2"/>
<line x1="573.46" y1="219.60" x2="573.46" y2="226.40" stroke="#555" stroke-width="1" stroke-dasharray="2 2.2"/>
<line x1="573.46" y1="238.60" x2="573.46" y2="234.40" stroke="#555" stroke-width="1" stroke-dasharray="2 2.2"/>
<line x1="571.11" y1="219.60" x2="575.81" y2="219.60" stroke="#555" stroke-width="1"/>
<line x1="571.11" y1="238.60" x2="575.81" y2="238.60" stroke="#555" stroke-width="1"/>
<rect x="568.75" y="226.40" width="9.41" height="8.00" fill="#fff" stroke="#606060" stroke-width="1"/>
<line x1="568.75" y1="230.60" x2="578.17" y2="230.60" stroke="#000" stroke-width="2.2"/>
<line x1="582.87" y1="205.60" x2="582.87" y2="224.60" stroke="#555" stroke-width="1" stroke-dasharray="2 2.2"/>
<line x1="582.87" y1="242.40" x2="582.87" y2="236.40" stroke="#555" stroke-width="1" stroke-dasharray="2 2.2"/>
<line x1="580.52" y1="205.60" x2="585.22" y2="205.60" stroke="#555" stroke-width="1"/>
<line x1="580.52" y1="242.40" x2="585.22" y2="242.40" stroke="#555" stroke-width="1"/>
<rect x="578.16" y="224.60" width="9.41" height="11.80" fill="#fff" stroke="#606060" stroke-width="1"/>
<line x1="578.16" y1="231.60" x2="587.58" y2="231.60" stroke="#000" stroke-width="2.2"/>
<path d="M52.91 151.80H58.91M55.91 148.80V154.80M53.79 149.68L58.03 153.92M53.79 153.92L58.03 149.68" stroke="#b22222" stroke-width="0.9" fill="none"/>
<path d="M62.32 230.00H68.32M65.32 227.00V233.00M63.20 227.88L67.44 232.12M63.20 232.12L67.44 227.88" stroke="#b22222" stroke-width="0.9" fill="none"/>
<path d="M71.73 198.00H77.73M74.73 195.00V201.00M72.61 195.88L76.85 200.12M72.61 200.12L76.85 195.88" stroke="#b22222" stroke-width="0.9" fill="none"/>
<path d="M81.14 200.00H87.14M84.14 197.00V203.00M82.02 197.88L86.26 202.12M82.02 202.12L86.26 197.88" stroke="#b22222" stroke-width="0.9" fill="none"/>
<path d="M90.55 221.40H96.55M93.55 218.40V224.40M91.43 219.28L95.67 223.52M91.43 223.52L95.67 219.28" stroke="#b22222" stroke-width="0.9" fill="none"/>
<path d="M99.96 199.00H105.96M102.96 196.00V202.00M100.84 196.88L105.08 201.12M100.84 201.12L105.08 196.88" stroke="#b22222" stroke-width="0.9" fill="none"/>
<path d="M109.37 208.00H115.37M112.37 205.00V211.00M110.25 205.88L114.49 210.12M110.25 210.12L114.49 205.88" stroke="#b22222" stroke-width="0.9" fill="none"/>
<path d="M118.78 219.00H124.78M121.78 216.00V222.00M119.66 216.88L123.90 221.12M119.66 221.12L123.90 216.88" stroke="#b22222" stroke-width="0.9" fill="none"/>
<path d="M128.19 163.60H134.19M131.19 160.60V166.60M129.07 161.48L133.31 165.72M129.07 165.72L133.31 161.48" stroke="#b22222" stroke-width="0.9" fill="none"/>
<path d="M137.60 172.00H143.60M140.60 169.00V175.00M138.48 169.88L142.72 174.12M138.48 174.12L142.72 169.88" stroke="#b22222" stroke-width="0.9" fill="none"/>
<path d="M147.01 166.00H153.01M150.01 163.00V169.00M147.89 163.88L152.13 168.12M147.89 168.12L152.13 163.88" stroke="#b22222" stroke-width="0.9" fill="none"/>
<path d="M156.42 168.40H162.42M159.42 165.40V171.40M157.30 166.28L161.54 170.52M157.30 170.52L161.54 166.28" stroke="#b22222" stroke-width="0.9" fill="none"/>
<path d="M165.83 167.60H171.83M168.83 164.60V170.60M166.71 165.48L170.95 169.72M166.71 169.72L170.95 165.48" stroke="#b22222" stroke-width="0.9" fill="none"/>
<path d="M175.24 177.00H181.24M178.24 174.00V180.00M176.12 174.88L180.36 179.12M176.12 179.12L180.36 174.88" stroke="#b22222" stroke-width="0.9" fill="none"/>
<path d="M184.65 198.80H190.65M187.65 195.80V201.80M185.53 196.68L189.77 200.92M185.53 200.92L189.77 196.68" stroke="#b22222" stroke-width="0.9" fill="none"/>
<path d="M194.06 191.00H200.06M197.06 188.00V194.00M194.94 188.88L199.18 193.12M194.94 193.12L199.18 188.88" stroke="#b22222" stroke-width="0.9" fill="none"/>
<path d="M203.47 200.00H209.47M206.47 197.00V203.00M204.35 197.88L208.59 202.12M204.35 202.12L208.59 197.88" stroke="#b22222" stroke-width="0.9" fill="none"/>
<path d="M212.88 191.60H218.88M215.88 188.60V194.60M213.76 189.48L218.00 193.72M213.76 193.72L218.00 189.48" stroke="#b22222" stroke-width="0.9" fill="none"/>
<path d="M222.29 96.00H228.29M225.29 93.00V99.00M223.17 93.88L227.41 98.12M223.17 98.12L227.41 93.88" stroke="#b22222" stroke-width="0.9" fill="none"/>
<path d="M231.70 83.40H237.70M234.70 80.40V86.40M232.58 81.28L236.82 85.52M232.58 85.52L236.82 81.28" stroke="#b22222" stroke-width="0.9" fill="none"/>
<path d="M241.11 95.40H247.11M244.11 92.40V98.40M241.99 93.28L246.23 97.52M241.99 97.52L246.23 93.28" stroke="#b22222" stroke-width="0.9" fill="none"/>
<path d="M250.52 97.00H256.52M253.52 94.00V100.00M251.40 94.88L255.64 99.12M251.40 99.12L255.64 94.88" stroke="#b22222" stroke-width="0.9" fill="none"/>
<path d="M259.93 73.00H265.93M262.93 70.00V76.00M260.81 70.88L265.05 75.12M260.81 75.12L265.05 70.88" stroke="#b22222" stroke-width="0.9" fill="none"/>
<path d="M269.34 93.00H275.34M272.34 90.00V96.00M270.22 90.88L274.46 95.12M270.22 95.12L274.46 90.88" stroke="#b22222" stroke-width="0.9" fill="none"/>
<path d="M278.75 86.00H284.75M281.75 83.00V89.00M279.63 83.88L283.87 88.12M279.63 88.12L283.87 83.88" stroke="#b22222" stroke-width="0.9" fill="none"/>
<path d="M288.16 109.40H294.16M291.16 106.40V112.40M289.04 107.28L293.28 111.52M289.04 111.52L293.28 107.28" stroke="#b22222" stroke-width="0.9" fill="none"/>
<path d="M297.57 99.00H303.57M300.57 96.00V102.00M298.45 96.88L302.69 101.12M298.45 101.12L302.69 96.88" stroke="#b22222" stroke-width="0.9" fill="none"/>
<path d="M306.98 84.00H312.98M309.98 81.00V87.00M307.86 81.88L312.10 86.12M307.86 86.12L312.10 81.88" stroke="#b22222" stroke-width="0.9" fill="none"/>
<path d="M316.39 137.60H322.39M319.39 134.60V140.60M317.27 135.48L321.51 139.72M317.27 139.72L321.51 135.48" stroke="#b22222" stroke-width="0.9" fill="none"/>
<path d="M325.80 160.40H331.80M328.80 157.40V163.40M326.68 158.28L330.92 162.52M326.68 162.52L330.92 158.28" stroke="#b22222" stroke-width="0.9" fill="none"/>
<path d="M335.21 324.60H341.21M338.21 321.60V327.60M336.09 322.48L340.33 326.72M336.09 326.72L340.33 322.48" stroke="#b22222" stroke-width="0.9" fill="none"/>
<path d="M344.62 193.60H350.62M347.62 190.60V196.60M345.50 191.48L349.74 195.72M345.50 195.72L349.74 191.48" stroke="#b22222" stroke-width="0.9" fill="none"/>
<path d="M354.03 217.00H360.03M357.03 214.00V220.00M354.91 214.88L359.15 219.12M354.91 219.12L359.15 214.88" stroke="#b22222" stroke-width="0.9" fill="none"/>
<path d="M363.44 208.40H369.44M366.44 205.40V211.40M364.32 206.28L368.56 210.52M364.32 210.52L368.56 206.28" stroke="#b22222" stroke-width="0.9" fill="none"/>
<path d="M372.85 133.20H378.85M375.85 130.20V136.20M373.73 131.08L377.97 135.32M373.73 135.32L377.97 131.08" stroke="#b22222" stroke-width="0.9" fill="none"/>
<path d="M382.26 144.60H388.26M385.26 141.60V147.60M383.14 142.48L387.38 146.72M383.14 146.72L387.38 142.48" stroke="#b22222" stroke-width="0.9" fill="none"/>
<path d="M391.67 159.00H397.67M394.67 156.00V162.00M392.55 156.88L396.79 161.12M392.55 161.12L396.79 156.88" stroke="#b22222" stroke-width="0.9" fill="none"/>
<path d="M401.08 83.00H407.08M404.08 80.00V86.00M401.96 80.88L406.20 85.12M401.96 85.12L406.20 80.88" stroke="#b22222" stroke-width="0.9" fill="none"/>
<path d="M410.49 87.40H416.49M413.49 84.40V90.40M411.37 85.28L415.61 89.52M411.37 89.52L415.61 85.28" stroke="#b22222" stroke-width="0.9" fill="none"/>
<path d="M419.90 89.40H425.90M422.90 86.40V92.40M420.78 87.28L425.02 91.52M420.78 91.52L425.02 87.28" stroke="#b22222" stroke-width="0.9" fill="none"/>
<path d="M429.31 275.60H435.31M432.31 272.60V278.60M430.19 273.48L434.43 277.72M430.19 277.72L434.43 273.48" stroke="#b22222" stroke-width="0.9" fill="none"/>
<path d="M438.72 244.00H444.72M441.72 241.00V247.00M439.60 241.88L443.84 246.12M439.60 246.12L443.84 241.88" stroke="#b22222" stroke-width="0.9" fill="none"/>
<path d="M448.13 272.40H454.13M451.13 269.40V275.40M449.01 270.28L453.25 274.52M449.01 274.52L453.25 270.28" stroke="#b22222" stroke-width="0.9" fill="none"/>
<path d="M457.54 272.20H463.54M460.54 269.20V275.20M458.42 270.08L462.66 274.32M458.42 274.32L462.66 270.08" stroke="#b22222" stroke-width="0.9" fill="none"/>
<path d="M466.95 227.00H472.95M469.95 224.00V230.00M467.83 224.88L472.07 229.12M467.83 229.12L472.07 224.88" stroke="#b22222" stroke-width="0.9" fill="none"/>
<path d="M476.36 166.00H482.36M479.36 163.00V169.00M477.24 163.88L481.48 168.12M477.24 168.12L481.48 163.88" stroke="#b22222" stroke-width="0.9" fill="none"/>
<path d="M485.77 175.60H491.77M488.77 172.60V178.60M486.65 173.48L490.89 177.72M486.65 177.72L490.89 173.48" stroke="#b22222" stroke-width="0.9" fill="none"/>
<path d="M495.18 192.00H501.18M498.18 189.00V195.00M496.06 189.88L500.30 194.12M496.06 194.12L500.30 189.88" stroke="#b22222" stroke-width="0.9" fill="none"/>
<path d="M504.59 91.00H510.59M507.59 88.00V94.00M505.47 88.88L509.71 93.12M505.47 93.12L509.71 88.88" stroke="#b22222" stroke-width="0.9" fill="none"/>
<path d="M514.00 132.00H520.00M517.00 129.00V135.00M514.88 129.88L519.12 134.12M514.88 134.12L519.12 129.88" stroke="#b22222" stroke-width="0.9" fill="none"/>
<path d="M523.41 139.00H529.41M526.41 136.00V142.00M524.29 136.88L528.53 141.12M524.29 141.12L528.53 136.88" stroke="#b22222" stroke-width="0.9" fill="none"/>
<path d="M532.82 149.40H538.82M535.82 146.40V152.40M533.70 147.28L537.94 151.52M533.70 151.52L537.94 147.28" stroke="#b22222" stroke-width="0.9" fill="none"/>
<path d="M542.23 132.40H548.23M545.23 129.40V135.40M543.11 130.28L547.35 134.52M543.11 134.52L547.35 130.28" stroke="#b22222" stroke-width="0.9" fill="none"/>
<path d="M551.64 118.00H557.64M554.64 115.00V121.00M552.52 115.88L556.76 120.12M552.52 120.12L556.76 115.88" stroke="#b22222" stroke-width="0.9" fill="none"/>
<path d="M561.05 151.40H567.05M564.05 148.40V154.40M561.93 149.28L566.17 153.52M561.93 153.52L566.17 149.28" stroke="#b22222" stroke-width="0.9" fill="none"/>
<path d="M570.46 172.00H576.46M573.46 169.00V175.00M571.34 169.88L575.58 174.12M571.34 174.12L575.58 169.88" stroke="#b22222" stroke-width="0.9" fill="none"/>
<path d="M579.87 168.00H585.87M582.87 165.00V171.00M580.75 165.88L584.99 170.12M580.75 170.12L584.99 165.88" stroke="#b22222" stroke-width="0.9" fill="none"/>
<circle cx="55.91" cy="181.40" r="2.15" fill="none" stroke="#4848ff" stroke-width="1.05"/>
<circle cx="65.32" cy="190.40" r="2.15" fill="none" stroke="#4848ff" stroke-width="1.05"/>
<circle cx="74.73" cy="198.00" r="2.15" fill="none" stroke="#4848ff" stroke-width="1.05"/>
<circle cx="84.14" cy="216.00" r="2.15" fill="none" stroke="#4848ff" stroke-width="1.05"/>
<circle cx="93.55" cy="190.00" r="2.15" fill="none" stroke="#4848ff" stroke-width="1.05"/>
<circle cx="102.96" cy="199.00" r="2.15" fill="none" stroke="#4848ff" stroke-width="1.05"/>
<circle cx="112.37" cy="198.40" r="2.15" fill="none" stroke="#4848ff" stroke-width="1.05"/>
<circle cx="121.78" cy="172.60" r="2.15" fill="none" stroke="#4848ff" stroke-width="1.05"/>
<circle cx="131.19" cy="201.00" r="2.15" fill="none" stroke="#4848ff" stroke-width="1.05"/>
<circle cx="140.60" cy="183.60" r="2.15" fill="none" stroke="#4848ff" stroke-width="1.05"/>
<circle cx="150.01" cy="193.60" r="2.15" fill="none" stroke="#4848ff" stroke-width="1.05"/>
<circle cx="159.42" cy="187.00" r="2.15" fill="none" stroke="#4848ff" stroke-width="1.05"/>
<circle cx="168.83" cy="183.40" r="2.15" fill="none" stroke="#4848ff" stroke-width="1.05"/>
<circle cx="178.24" cy="186.00" r="2.15" fill="none" stroke="#4848ff" stroke-width="1.05"/>
<circle cx="187.65" cy="208.40" r="2.15" fill="none" stroke="#4848ff" stroke-width="1.05"/>
<circle cx="197.06" cy="203.60" r="2.15" fill="none" stroke="#4848ff" stroke-width="1.05"/>
<circle cx="206.47" cy="204.40" r="2.15" fill="none" stroke="#4848ff" stroke-width="1.05"/>
<circle cx="215.88" cy="215.00" r="2.15" fill="none" stroke="#4848ff" stroke-width="1.05"/>
<circle cx="225.29" cy="164.00" r="2.15" fill="none" stroke="#4848ff" stroke-width="1.05"/>
<circle cx="234.70" cy="148.00" r="2.15" fill="none" stroke="#4848ff" stroke-width="1.05"/>
<circle cx="244.11" cy="153.40" r="2.15" fill="none" stroke="#4848ff" stroke-width="1.05"/>
<circle cx="253.52" cy="153.40" r="2.15" fill="none" stroke="#4848ff" stroke-width="1.05"/>
<circle cx="262.93" cy="154.60" r="2.15" fill="none" stroke="#4848ff" stroke-width="1.05"/>
<circle cx="272.34" cy="141.40" r="2.15" fill="none" stroke="#4848ff" stroke-width="1.05"/>
<circle cx="281.75" cy="155.60" r="2.15" fill="none" stroke="#4848ff" stroke-width="1.05"/>
<circle cx="291.16" cy="160.00" r="2.15" fill="none" stroke="#4848ff" stroke-width="1.05"/>
<circle cx="300.57" cy="170.00" r="2.15" fill="none" stroke="#4848ff" stroke-width="1.05"/>
<circle cx="309.98" cy="150.80" r="2.15" fill="none" stroke="#4848ff" stroke-width="1.05"/>
<circle cx="319.39" cy="193.20" r="2.15" fill="none" stroke="#4848ff" stroke-width="1.05"/>
<circle cx="328.80" cy="182.60" r="2.15" fill="none" stroke="#4848ff" stroke-width="1.05"/>
<circle cx="338.21" cy="275.40" r="2.15" fill="none" stroke="#4848ff" stroke-width="1.05"/>
<circle cx="347.62" cy="220.60" r="2.15" fill="none" stroke="#4848ff" stroke-width="1.05"/>
<circle cx="357.03" cy="228.00" r="2.15" fill="none" stroke="#4848ff" stroke-width="1.05"/>
<circle cx="366.44" cy="229.60" r="2.15" fill="none" stroke="#4848ff" stroke-width="1.05"/>
<circle cx="375.85" cy="178.60" r="2.15" fill="none" stroke="#4848ff" stroke-width="1.05"/>
<circle cx="385.26" cy="187.40" r="2.15" fill="none" stroke="#4848ff" stroke-width="1.05"/>
<circle cx="394.67" cy="168.00" r="2.15" fill="none" stroke="#4848ff" stroke-width="1.05"/>
<circle cx="404.08" cy="157.40" r="2.15" fill="none" stroke="#4848ff" stroke-width="1.05"/>
<circle cx="413.49" cy="168.00" r="2.15" fill="none" stroke="#4848ff" stroke-width="1.05"/>
<circle cx="422.90" cy="149.20" r="2.15" fill="none" stroke="#4848ff" stroke-width="1.05"/>
<circle cx="432.31" cy="223.00" r="2.15" fill="none" stroke="#4848ff" stroke-width="1.05"/>
<circle cx="441.72" cy="220.60" r="2.15" fill="none" stroke="#4848ff" stroke-width="1.05"/>
<circle cx="451.13" cy="215.40" r="2.15" fill="none" stroke="#4848ff" stroke-width="1.05"/>
<circle cx="460.54" cy="210.60" r="2.15" fill="none" stroke="#4848ff" stroke-width="1.05"/>
<circle cx="469.95" cy="231.00" r="2.15" fill="none" stroke="#4848ff" stroke-width="1.05"/>
<circle cx="479.36" cy="177.40" r="2.15" fill="none" stroke="#4848ff" stroke-width="1.05"/>
<circle cx="488.77" cy="179.40" r="2.15" fill="none" stroke="#4848ff" stroke-width="1.05"/>
<circle cx="498.18" cy="178.40" r="2.15" fill="none" stroke="#4848ff" stroke-width="1.05"/>
<circle cx="507.59" cy="170.40" r="2.15" fill="none" stroke="#4848ff" stroke-width="1.05"/>
<circle cx="517.00" cy="165.60" r="2.15" fill="none" stroke="#4848ff" stroke-width="1.05"/>
<circle cx="526.41" cy="170.60" r="2.15" fill="none" stroke="#4848ff" stroke-width="1.05"/>
<circle cx="535.82" cy="179.00" r="2.15" fill="none" stroke="#4848ff" stroke-width="1.05"/>
<circle cx="545.23" cy="162.60" r="2.15" fill="none" stroke="#4848ff" stroke-width="1.05"/>
<circle cx="554.64" cy="169.60" r="2.15" fill="none" stroke="#4848ff" stroke-width="1.05"/>
<circle cx="564.05" cy="195.00" r="2.15" fill="none" stroke="#4848ff" stroke-width="1.05"/>
<circle cx="573.46" cy="196.60" r="2.15" fill="none" stroke="#4848ff" stroke-width="1.05"/>
<circle cx="582.87" cy="180.60" r="2.15" fill="none" stroke="#4848ff" stroke-width="1.05"/>
<path d="M34.5 16H603.5V342H34.5Z" fill="none" stroke="#666" stroke-width="1.2"/>
<line x1="34.5" y1="16" x2="216" y2="16" stroke="#ddd" stroke-width="1.4"/>
<line x1="29" y1="330.00" x2="34.5" y2="330.00" stroke="#555" stroke-width="1"/>
<text x="0" y="0" font-size="10.4" text-anchor="middle" transform="translate(25.2 330.00) rotate(-90)">−4</text>
<line x1="29" y1="279.70" x2="34.5" y2="279.70" stroke="#555" stroke-width="1"/>
<text x="0" y="0" font-size="10.4" text-anchor="middle" transform="translate(25.2 279.70) rotate(-90)">−2</text>
<line x1="29" y1="229.40" x2="34.5" y2="229.40" stroke="#555" stroke-width="1"/>
<text x="0" y="0" font-size="10.4" text-anchor="middle" transform="translate(25.2 229.40) rotate(-90)">0</text>
<line x1="29" y1="179.10" x2="34.5" y2="179.10" stroke="#555" stroke-width="1"/>
<text x="0" y="0" font-size="10.4" text-anchor="middle" transform="translate(25.2 179.10) rotate(-90)">2</text>
<line x1="29" y1="128.80" x2="34.5" y2="128.80" stroke="#555" stroke-width="1"/>
<text x="0" y="0" font-size="10.4" text-anchor="middle" transform="translate(25.2 128.80) rotate(-90)">4</text>
<line x1="29" y1="78.50" x2="34.5" y2="78.50" stroke="#555" stroke-width="1"/>
<text x="0" y="0" font-size="10.4" text-anchor="middle" transform="translate(25.2 78.50) rotate(-90)">6</text>
<line x1="29" y1="28.20" x2="34.5" y2="28.20" stroke="#555" stroke-width="1"/>
<text x="0" y="0" font-size="10.4" text-anchor="middle" transform="translate(25.2 28.20) rotate(-90)">8</text>
<line x1="46.50" y1="342" x2="46.50" y2="347.5" stroke="#555" stroke-width="1"/>
<text x="46.50" y="359.8" font-size="10.4" text-anchor="middle">0</text>
<line x1="140.60" y1="342" x2="140.60" y2="347.5" stroke="#555" stroke-width="1"/>
<text x="140.60" y="359.8" font-size="10.4" text-anchor="middle">10</text>
<line x1="234.70" y1="342" x2="234.70" y2="347.5" stroke="#555" stroke-width="1"/>
<text x="234.70" y="359.8" font-size="10.4" text-anchor="middle">20</text>
<line x1="328.80" y1="342" x2="328.80" y2="347.5" stroke="#555" stroke-width="1"/>
<text x="328.80" y="359.8" font-size="10.4" text-anchor="middle">30</text>
<line x1="422.90" y1="342" x2="422.90" y2="347.5" stroke="#555" stroke-width="1"/>
<text x="422.90" y="359.8" font-size="10.4" text-anchor="middle">40</text>
<line x1="517.00" y1="342" x2="517.00" y2="347.5" stroke="#555" stroke-width="1"/>
<text x="517.00" y="359.8" font-size="10.4" text-anchor="middle">50</text>
<text x="318.8" y="374.8" font-size="10.4" text-anchor="middle">Model number</text>
<text x="0" y="0" font-size="10.4" text-anchor="middle" transform="translate(8 178.7) rotate(-90)">Uwind [m/s]</text>
<rect x="448.3" y="16" width="155" height="50.3" fill="#fff" stroke="#666" stroke-width="1.1"/>
<line x1="451" y1="28.6" x2="470.4" y2="28.6" stroke="#444" stroke-width="1"/>
<rect x="458.5" y="26.8" width="5" height="3.8" fill="none" stroke="#444" stroke-width="1"/>
<circle cx="460.90" cy="41.30" r="2.5" fill="none" stroke="#4848ff" stroke-width="1.05"/>
<path d="M457.40 53.60H464.40M460.90 50.10V57.10M458.43 51.13L463.37 56.07M458.43 56.07L463.37 51.13" stroke="#b22222" stroke-width="0.85" fill="none"/>
<text x="480.3" y="33.1" font-size="10.4">30−year means PiControl</text>
<text x="480.3" y="45.6" font-size="10.4">Mean 2071−2100 RCP2.6</text>
<text x="480.3" y="58.3" font-size="10.4">Mean 2071−2100 RCP8.5</text>
<rect x="39" y="20.2" width="164" height="121.3" fill="#fff" stroke="none"/>
<defs><clipPath id="ic"><rect x="39" y="20.2" width="164" height="121.3"/></clipPath></defs>
<g clip-path="url(#ic)">
<line x1="44.61" y1="108.20" x2="44.61" y2="111.40" stroke="#555" stroke-width="1" stroke-dasharray="2 2.2"/>
<line x1="44.61" y1="122.40" x2="44.61" y2="118.20" stroke="#555" stroke-width="1" stroke-dasharray="2 2.2"/>
<line x1="39.18" y1="108.20" x2="50.04" y2="108.20" stroke="#555" stroke-width="1"/>
<line x1="39.18" y1="122.40" x2="50.04" y2="122.40" stroke="#555" stroke-width="1"/>
<rect x="33.75" y="111.40" width="21.71" height="6.80" fill="#fff" stroke="#606060" stroke-width="1"/>
<line x1="33.75" y1="114.80" x2="55.47" y2="114.80" stroke="#000" stroke-width="2.2"/>
<line x1="66.32" y1="107.80" x2="66.32" y2="111.40" stroke="#555" stroke-width="1" stroke-dasharray="2 2.2"/>
<line x1="66.32" y1="122.70" x2="66.32" y2="117.80" stroke="#555" stroke-width="1" stroke-dasharray="2 2.2"/>
<line x1="60.89" y1="107.80" x2="71.75" y2="107.80" stroke="#555" stroke-width="1"/>
<line x1="60.89" y1="122.70" x2="71.75" y2="122.70" stroke="#555" stroke-width="1"/>
<rect x="55.46" y="111.40" width="21.71" height="6.40" fill="#fff" stroke="#606060" stroke-width="1"/>
<line x1="55.46" y1="114.70" x2="77.17" y2="114.70" stroke="#000" stroke-width="2.2"/>
<line x1="88.03" y1="109.60" x2="88.03" y2="112.20" stroke="#555" stroke-width="1" stroke-dasharray="2 2.2"/>
<line x1="88.03" y1="119.90" x2="88.03" y2="117.40" stroke="#555" stroke-width="1" stroke-dasharray="2 2.2"/>
<line x1="82.60" y1="109.60" x2="93.46" y2="109.60" stroke="#555" stroke-width="1"/>
<line x1="82.60" y1="119.90" x2="93.46" y2="119.90" stroke="#555" stroke-width="1"/>
<rect x="77.17" y="112.20" width="21.71" height="5.20" fill="#b8b8b8" stroke="#999" stroke-width="1"/>
<line x1="77.17" y1="114.90" x2="98.89" y2="114.90" stroke="#000" stroke-width="1.8"/>
<line x1="109.74" y1="108.80" x2="109.74" y2="112.40" stroke="#555" stroke-width="1" stroke-dasharray="2 2.2"/>
<line x1="109.74" y1="120.40" x2="109.74" y2="117.60" stroke="#555" stroke-width="1" stroke-dasharray="2 2.2"/>
<line x1="104.31" y1="108.80" x2="115.17" y2="108.80" stroke="#555" stroke-width="1"/>
<line x1="104.31" y1="120.40" x2="115.17" y2="120.40" stroke="#555" stroke-width="1"/>
<rect x="98.89" y="112.40" width="21.71" height="5.20" fill="#b8b8b8" stroke="#999" stroke-width="1"/>
<line x1="98.89" y1="115.20" x2="120.60" y2="115.20" stroke="#000" stroke-width="1.8"/>
<line x1="131.45" y1="108.10" x2="131.45" y2="111.70" stroke="#555" stroke-width="1" stroke-dasharray="2 2.2"/>
<line x1="131.45" y1="122.30" x2="131.45" y2="117.70" stroke="#555" stroke-width="1" stroke-dasharray="2 2.2"/>
<line x1="126.02" y1="108.10" x2="136.88" y2="108.10" stroke="#555" stroke-width="1"/>
<line x1="126.02" y1="122.30" x2="136.88" y2="122.30" stroke="#555" stroke-width="1"/>
<rect x="120.60" y="111.70" width="21.71" height="6.00" fill="#fff" stroke="#606060" stroke-width="1"/>
<line x1="120.60" y1="114.70" x2="142.31" y2="114.70" stroke="#000" stroke-width="2.2"/>
<line x1="153.16" y1="104.70" x2="153.16" y2="110.40" stroke="#555" stroke-width="1" stroke-dasharray="2 2.2"/>
<line x1="153.16" y1="126.60" x2="153.16" y2="119.10" stroke="#555" stroke-width="1" stroke-dasharray="2 2.2"/>
<line x1="147.73" y1="104.70" x2="158.59" y2="104.70" stroke="#555" stroke-width="1"/>
<line x1="147.73" y1="126.60" x2="158.59" y2="126.60" stroke="#555" stroke-width="1"/>
<rect x="142.31" y="110.40" width="21.71" height="8.70" fill="#fff" stroke="#606060" stroke-width="1"/>
<line x1="142.31" y1="114.70" x2="164.01" y2="114.70" stroke="#000" stroke-width="2.2"/>
<line x1="174.87" y1="103.50" x2="174.87" y2="109.50" stroke="#555" stroke-width="1" stroke-dasharray="2 2.2"/>
<line x1="174.87" y1="126.30" x2="174.87" y2="120.30" stroke="#555" stroke-width="1" stroke-dasharray="2 2.2"/>
<line x1="169.44" y1="103.50" x2="180.30" y2="103.50" stroke="#555" stroke-width="1"/>
<line x1="169.44" y1="126.30" x2="180.30" y2="126.30" stroke="#555" stroke-width="1"/>
<rect x="164.02" y="109.50" width="21.71" height="10.80" fill="#fff" stroke="#606060" stroke-width="1"/>
<line x1="164.02" y1="114.70" x2="185.72" y2="114.70" stroke="#000" stroke-width="2.2"/>
<line x1="196.58" y1="106.20" x2="196.58" y2="111.70" stroke="#555" stroke-width="1" stroke-dasharray="2 2.2"/>
<line x1="196.58" y1="122.60" x2="196.58" y2="117.70" stroke="#555" stroke-width="1" stroke-dasharray="2 2.2"/>
<line x1="191.15" y1="106.20" x2="202.01" y2="106.20" stroke="#555" stroke-width="1"/>
<line x1="191.15" y1="122.60" x2="202.01" y2="122.60" stroke="#555" stroke-width="1"/>
<rect x="185.73" y="111.70" width="21.71" height="6.00" fill="#fff" stroke="#606060" stroke-width="1"/>
<line x1="185.73" y1="114.70" x2="207.44" y2="114.70" stroke="#000" stroke-width="2.2"/>
<path d="M41.61 73.70H47.61M44.61 70.70V76.70M42.49 71.58L46.73 75.82M42.49 75.82L46.73 71.58" stroke="#b22222" stroke-width="0.9" fill="none"/>
<path d="M63.32 80.50H69.32M66.32 77.50V83.50M64.20 78.38L68.44 82.62M64.20 82.62L68.44 78.38" stroke="#b22222" stroke-width="0.9" fill="none"/>
<path d="M85.03 49.30H91.03M88.03 46.30V52.30M85.91 47.18L90.15 51.42M85.91 51.42L90.15 47.18" stroke="#b22222" stroke-width="0.9" fill="none"/>
<path d="M106.74 50.40H112.74M109.74 47.40V53.40M107.62 48.28L111.86 52.52M107.62 52.52L111.86 48.28" stroke="#b22222" stroke-width="0.9" fill="none"/>
<path d="M128.45 60.80H134.45M131.45 57.80V63.80M129.33 58.68L133.57 62.92M129.33 62.92L133.57 58.68" stroke="#b22222" stroke-width="0.9" fill="none"/>
<path d="M150.16 131.10H156.16M153.16 128.10V134.10M151.04 128.98L155.28 133.22M151.04 133.22L155.28 128.98" stroke="#b22222" stroke-width="0.9" fill="none"/>
<path d="M171.87 75.60H177.87M174.87 72.60V78.60M172.75 73.48L176.99 77.72M172.75 77.72L176.99 73.48" stroke="#b22222" stroke-width="0.9" fill="none"/>
<path d="M193.58 71.70H199.58M196.58 68.70V74.70M194.46 69.58L198.70 73.82M194.46 73.82L198.70 69.58" stroke="#b22222" stroke-width="0.9" fill="none"/>
<circle cx="44.61" cy="87.20" r="2.15" fill="none" stroke="#4848ff" stroke-width="1.05"/>
<circle cx="66.32" cy="97.20" r="2.15" fill="none" stroke="#4848ff" stroke-width="1.05"/>
<circle cx="88.03" cy="82.80" r="2.15" fill="none" stroke="#4848ff" stroke-width="1.05"/>
<circle cx="109.74" cy="86.50" r="2.15" fill="none" stroke="#4848ff" stroke-width="1.05"/>
<circle cx="131.45" cy="87.80" r="2.15" fill="none" stroke="#4848ff" stroke-width="1.05"/>
<circle cx="153.16" cy="107.40" r="2.15" fill="none" stroke="#4848ff" stroke-width="1.05"/>
<circle cx="174.87" cy="90.80" r="2.15" fill="none" stroke="#4848ff" stroke-width="1.05"/>
<circle cx="196.58" cy="86.00" r="2.15" fill="none" stroke="#4848ff" stroke-width="1.05"/>
</g>
<path d="M39 20.2H203V141.5H39Z" fill="none" stroke="#555" stroke-width="1.1"/>
<line x1="44.61" y1="16" x2="44.61" y2="20.2" stroke="#444" stroke-width="1"/>
<line x1="66.32" y1="16" x2="66.32" y2="20.2" stroke="#444" stroke-width="1"/>
<line x1="88.03" y1="16" x2="88.03" y2="20.2" stroke="#444" stroke-width="1"/>
<line x1="109.74" y1="16" x2="109.74" y2="20.2" stroke="#444" stroke-width="1"/>
<line x1="131.45" y1="16" x2="131.45" y2="20.2" stroke="#444" stroke-width="1"/>
<line x1="153.16" y1="16" x2="153.16" y2="20.2" stroke="#444" stroke-width="1"/>
<line x1="174.87" y1="16" x2="174.87" y2="20.2" stroke="#444" stroke-width="1"/>
<line x1="196.58" y1="16" x2="196.58" y2="20.2" stroke="#444" stroke-width="1"/>
<text x="66.32" y="7.5" font-size="10.4" text-anchor="middle">2</text>
<text x="109.74" y="7.5" font-size="10.4" text-anchor="middle">4</text>
<text x="153.16" y="7.5" font-size="10.4" text-anchor="middle">6</text>
<text x="196.58" y="7.5" font-size="10.4" text-anchor="middle">8</text>
<line x1="203" y1="137.40" x2="208" y2="137.40" stroke="#444" stroke-width="1"/>
<text x="0" y="0" font-size="10.4" text-anchor="middle" transform="translate(221.5 137.40) rotate(-90)">−2</text>
<line x1="203" y1="114.80" x2="208" y2="114.80" stroke="#444" stroke-width="1"/>
<text x="0" y="0" font-size="10.4" text-anchor="middle" transform="translate(221.5 114.80) rotate(-90)">0</text>
<line x1="203" y1="92.20" x2="208" y2="92.20" stroke="#444" stroke-width="1"/>
<text x="0" y="0" font-size="10.4" text-anchor="middle" transform="translate(221.5 92.20) rotate(-90)">2</text>
<line x1="203" y1="69.60" x2="208" y2="69.60" stroke="#444" stroke-width="1"/>
<text x="0" y="0" font-size="10.4" text-anchor="middle" transform="translate(221.5 69.60) rotate(-90)">4</text>
<line x1="203" y1="47.00" x2="208" y2="47.00" stroke="#444" stroke-width="1"/>
<text x="0" y="0" font-size="10.4" text-anchor="middle" transform="translate(221.5 47.00) rotate(-90)">6</text>
<line x1="203" y1="24.40" x2="208" y2="24.40" stroke="#444" stroke-width="1"/>
<text x="0" y="0" font-size="10.4" text-anchor="middle" transform="translate(221.5 24.40) rotate(-90)">8</text>
<text x="137.6" y="37.0" font-size="10.4" text-anchor="middle">past1000</text>
</svg></body></html>
